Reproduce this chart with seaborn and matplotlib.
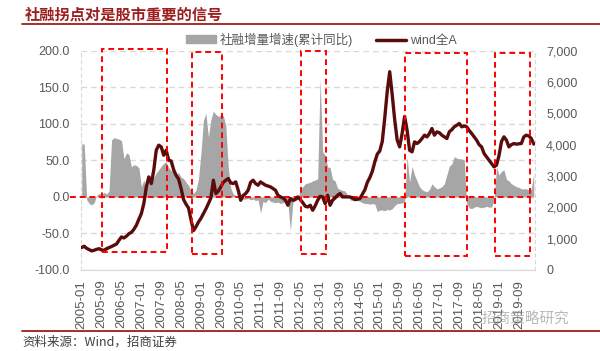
import numpy as np
import pandas as pd
import matplotlib
matplotlib.use("Agg")
import matplotlib.pyplot as plt
import seaborn as sns
from matplotlib.lines import Line2D
from matplotlib.patches import Patch, Rectangle
from matplotlib.ticker import FuncFormatter

# monthly data, 2005-01 .. 2020-03
months = pd.date_range("2005-01-01", periods=183, freq="MS").strftime("%Y-%m").tolist()

# 社融增量增速(累计同比), %
tsf_growth = [
    73, 72, -4, -9, -11, -8, 2, 5, 3, 6, 4, 8,               # 2005
    78, 81, 80, 79, 77, 52, 60, 58, 41, 44, 43, 40,          # 2006
    14, 23, 11, 24, 26, 27, 33, 37, 42, 46, 48, 40,          # 2007
    36, 34, 31, 33, 27, 25, 20, 16, 8, 5, 9, 25,             # 2008
    60, 105, 114, 82, 106, 117, 113, 110, 112, 111, 98, 40,  # 2009
    12, 4, 2, 0, -2, -3, -3, -2, -4, -3, -5, -4,             # 2010
    -22, -6, -8, -3, -6, -7, -8, -7, -9, -8, -6, -8,         # 2011
    -46, -8, -4, -3, 10, 14, 18, 19, 20, 22, 23, 25,         # 2012
    162, 62, 57, 41, 40, 24, 22, 12, 10, 9, 8, 3,            # 2013
    -4, -5, -5, -5, -6, -8, -9, -9, -10, -9, -10, -20,       # 2014
    -18, -18, -19, -17, -18, -16, -12, -9, -9, -8, -7, 55,   # 2015
    20, 42, 30, 22, 14, 10, 8, 7, 10, 18, 14, 11,            # 2016
    12, 14, 18, 30, 42, 45, 55, 53, 52, 52, 50, -9,          # 2017
    -15, -16, -14, -13, -14, -15, -14, -13, -14, -14, -5, 41,  # 2018
    30, 35, 37, 24, 22, 18, 16, 14, 13, 11, 11, 11,          # 2019
    10, 11, 32,                                              # 2020
]

# wind全A index
wind_a = [
    720, 757, 690, 650, 610, 630, 660, 680, 640, 630, 680, 714,
    750, 789, 830, 949, 1055, 1023, 1080, 1160, 1200, 1300, 1430, 1620,
    1800, 2120, 2653, 2970, 2760, 3185, 3824, 3984, 3930, 3664, 3824, 3505,
    3480, 3200, 3020, 2900, 2600, 2250, 2100, 1980, 1600, 1260, 1380, 1530,
    1650, 1800, 1950, 2120, 2300, 2866, 2440, 2520, 2653, 2800, 2866, 2919,
    2780, 2760, 2812, 2546, 2226, 2380, 2440, 2546, 2800, 2866, 2759, 2706,
    2812, 2760, 2706, 2680, 2653, 2600, 2546, 2386, 2333, 2300, 2226, 2067,
    2280, 2226, 2250, 2333, 2248, 2150, 2035, 2013, 2067, 1907, 2050, 2226,
    2354, 2333, 2120, 2386, 2067, 2226, 2300, 2386, 2440, 2333, 2333, 2330,
    2333, 2300, 2248, 2260, 2280, 2420, 2560, 2800, 2950, 3150, 3450, 3700,
    3800, 4100, 4850, 5700, 6330, 5600, 4800, 4150, 3930, 4357, 4900, 4463,
    3824, 3771, 4090, 4037, 4100, 4197, 4303, 4250, 4357, 4516, 4303, 4410,
    4380, 4303, 4250, 4197, 4410, 4480, 4570, 4620, 4676, 4570, 4600, 4570,
    4450, 4357, 4250, 4144, 4000, 3930, 3718, 3611, 3500, 3398, 3292, 3345,
    3650, 4100, 4250, 4144, 3930, 4000, 4037, 4016, 4030, 4037, 4250, 4303,
    4280, 4197, 4020,
]

# highlighted windows (start month, end month) on the category axis
box_starts = ["2005-09", "2008-09", "2012-05", "2015-11", "2018-11"]
box_ends = ["2007-11", "2009-09", "2013-03", "2017-12", "2020-01"]

df = pd.DataFrame({"month": months, "tsf": tsf_growth, "wind": wind_a})
df["idx"] = np.arange(len(df))

grey_txt = "#595959"
area_col = "#A6A6A6"
line_col = "#5A0C0C"
title_red = "#9C1E1E"

sns.set_style("white")
plt.rcParams["font.family"] = ["Liberation Sans", "Noto Sans CJK SC"]

fig = plt.figure(figsize=(6, 3.51), dpi=100)
ax = fig.add_axes([80.5 / 600, 1 - 270 / 351, (535 - 80.5) / 600, 219.3 / 351])
ax2 = ax.twinx()

ax.fill_between(df["idx"], 0, df["tsf"], color=area_col, lw=0, zorder=2)
sns.lineplot(data=df, x="idx", y="wind", ax=ax2, color=line_col, lw=2.4, zorder=3)

ax.set_xlim(-0.5, len(df) - 0.5)
ax.set_ylim(-100, 200)
ax2.set_ylim(0, 7000)
ax.set_yticks(np.arange(-100, 201, 50))
ax2.set_yticks(np.arange(0, 7001, 1000))
ax.yaxis.set_major_formatter(FuncFormatter(lambda v, p: f"{v:.1f}"))
ax2.yaxis.set_major_formatter(FuncFormatter(lambda v, p: f"{int(v):,}"))
ax.set_xticks(df["idx"][::8])
ax.set_xticklabels(df["month"][::8], rotation=90)
ax.set_xlabel("")
ax.set_ylabel("")
ax2.set_ylabel("")

for a in (ax, ax2):
    a.tick_params(length=0, labelsize=9, labelcolor=grey_txt, pad=8)
    for s in a.spines.values():
        s.set_visible(False)
ax.tick_params(axis="x", pad=7, labelsize=9.5)
ax.grid(axis="y", color="#D9D9D9", ls=(0, (4, 3)), lw=1, zorder=0)
ax.set_axisbelow(True)
ax.spines["bottom"].set_visible(True)
ax.spines["bottom"].set_color("#D9D9D9")
for side in ("left", "right"):
    ax.spines[side].set_visible(True)
    ax.spines[side].set_color("#D9D9D9")
    ax.spines[side].set_linestyle((0, (3, 3)))

# red dashed zero line and highlight boxes
ax.plot([-4.7, 180.7], [0, 0], color="#FF0000", ls=(0, (3, 2)), lw=1.4,
        zorder=4, clip_on=False)
box_top = [202, 198, 200, 197, 197]
box_bot = [-76, -78, -78, -81, -81]
for s, e, t, b in zip(box_starts, box_ends, box_top, box_bot):
    i0 = months.index(s) + 0.3
    i1 = months.index(e) + 0.3
    ax2.add_patch(Rectangle((i0, (b + 100) * 70 / 3), i1 - i0, (t - b) * 70 / 3,
                            fill=False, ec="#FF0000", ls=(0, (3, 2)), lw=1.4,
                            zorder=5, clip_on=False))

handles = [Patch(color=area_col), Line2D([], [], color=line_col, lw=2.5)]
ax2.legend(handles, ["社融增量增速(累计同比)", "wind全A"], ncol=2, frameon=False,
           loc="center", bbox_to_anchor=(0.53, 1.05), fontsize=9,
           handlelength=2.4, handleheight=0.6, columnspacing=1.8,
           handletextpad=0.3, labelcolor=grey_txt)

# title, rules and source
fig.text(25 / 600, 1 - 15 / 351, "社融拐点对是股市重要的信号", color=title_red,
         fontsize=11, fontweight="bold", va="center", ha="left",
         family=["Noto Sans CJK SC"])
fig.add_artist(Line2D([22 / 600, 1.0], [1 - 24 / 351] * 2, color=title_red, lw=1.3))
fig.add_artist(Line2D([22 / 600, 1.0], [1 - 331 / 351] * 2, color=title_red, lw=1.3))
fig.text(22 / 600, 1 - 342 / 351, "资料来源：Wind，招商证券", color="#404040",
         fontsize=9, va="center", ha="left",
         family=["Noto Sans CJK SC", "Liberation Sans"])
fig.text(482 / 600, 1 - 320 / 351, "招商策略研究", color="#9A9A9A", alpha=0.7,
         fontsize=10.5, va="center", ha="left", family=["Noto Sans CJK SC"])

fig.savefig("out.png", dpi=100)
